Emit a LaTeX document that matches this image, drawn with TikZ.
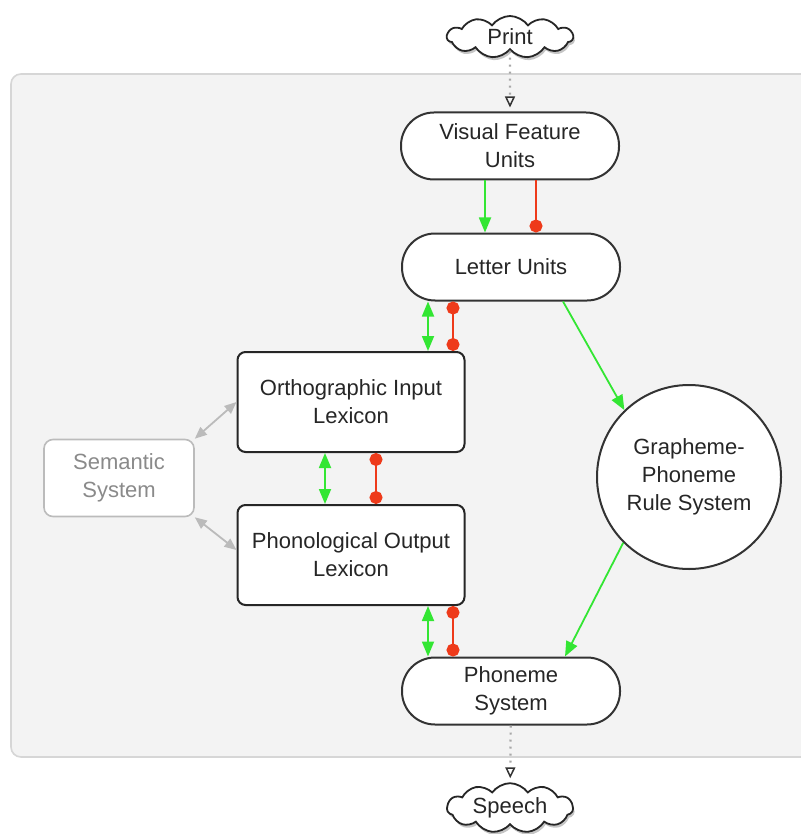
\documentclass[tikz,border=0pt]{standalone}
\usepackage{fontspec}
\setmainfont{Liberation Sans}
\usetikzlibrary{shapes.symbols,shadows,arrows.meta}
\definecolor{panelfill}{HTML}{F3F3F3}
\definecolor{panelline}{HTML}{D6D6D6}
\definecolor{gr}{HTML}{33E633}
\definecolor{rd}{HTML}{EE3A1A}
\definecolor{semgray}{HTML}{BBBBBB}
\definecolor{semtext}{HTML}{8A8A8A}
\definecolor{dotgray}{HTML}{A8A8A8}
\begin{document}
\begin{tikzpicture}[x=1pt,y=-1pt,
  every node/.style={font=\fontsize{22}{28}\selectfont, align=center, text=black!85},
  pill/.style={draw=black!80, line width=2pt, fill=white, rounded corners=33pt, minimum width=218pt, minimum height=67pt},
  lexbox/.style={draw=black!85, line width=2pt, fill=white, rounded corners=8pt, minimum width=227pt, minimum height=100pt},
  semb/.style={draw=semgray, line width=1.6pt, fill=white, rounded corners=9pt, minimum width=150pt, minimum height=77pt, text=semtext},
  gprc/.style={draw=black!80, line width=2pt, fill=white, circle, minimum size=184pt, inner sep=0pt},
  cloudn/.style={cloud, cloud puffs=11, cloud puff arc=110, aspect=3.2, draw=black!85, line width=1.8pt, fill=white, minimum width=126pt, minimum height=42pt, inner sep=2pt, drop shadow={opacity=0.45, shadow xshift=1.5pt, shadow yshift=-3pt}},
  excite/.style={draw=gr, line width=1.8pt, -{Triangle[length=15pt,width=12pt]}},
  excite2/.style={draw=gr, line width=1.8pt, {Triangle[length=15pt,width=12pt]}-{Triangle[length=15pt,width=12pt]}},
  inhib/.style={draw=rd, line width=1.8pt, -{Circle[length=13pt]}},
  inhib2/.style={draw=rd, line width=1.8pt, {Circle[length=13pt]}-{Circle[length=13pt]}},
  semarr/.style={draw=semgray, line width=1.8pt, {Triangle[length=12pt,width=10pt]}-{Triangle[length=12pt,width=10pt]}},
  inout/.style={draw=dotgray, line width=2.2pt, dash pattern=on 2pt off 5pt, -{Triangle[open, length=11pt, width=10pt, line width=1.5pt, color=black!80]}}
]
\useasboundingbox (0,0) rectangle (800,834);
\fill[white] (0,0) rectangle (800,834);
\draw[panelline, fill=panelfill, line width=1.6pt, rounded corners=10pt] (11,74) rectangle (830,757);

\node[cloudn] (print) at (510,37) {Print};
\node[pill] (vfu) at (510,146) {Visual Feature\\Units};
\node[pill] (lu) at (511,267) {Letter Units};
\node[lexbox] (oil) at (351,402) {Orthographic Input\\Lexicon};
\node[lexbox] (pol) at (351,555) {Phonological Output\\Lexicon};
\node[semb] (sem) at (119,478) {Semantic\\System};
\node[gprc] (gpr) at (689,477) {Grapheme-\\Phoneme\\Rule System};
\node[pill] (ph) at (511,691) {Phoneme\\System};
\node[cloudn] (speech) at (510,808) {Speech};

\draw[inout, shorten >=4pt] (print) -- (vfu);
\draw[inout, shorten >=4pt] (ph) -- (speech);

\draw[excite] ([xshift=-25pt]vfu.south) -- ([xshift=-26pt]lu.north);
\draw[inhib] ([xshift=26pt]vfu.south) -- ([xshift=25pt]lu.north);

\draw[excite2] ([xshift=-83pt]lu.south) -- ([xshift=77pt]oil.north);
\draw[inhib2] ([xshift=-58pt]lu.south) -- ([xshift=102pt]oil.north);

\draw[excite2] ([xshift=-26pt]oil.south) -- ([xshift=-26pt]pol.north);
\draw[inhib2] ([xshift=25pt]oil.south) -- ([xshift=25pt]pol.north);

\draw[excite2] ([xshift=77pt]pol.south) -- ([xshift=-83pt]ph.north);
\draw[inhib2] ([xshift=102pt]pol.south) -- ([xshift=-58pt]ph.north);

\draw[excite] ([xshift=52pt]lu.south) -- (gpr.134);
\draw[excite] (gpr.225) -- ([xshift=54pt]ph.north);

\draw[semarr] (sem.north east) -- (oil.west);
\draw[semarr] (sem.south east) -- ([yshift=5pt]pol.west);
\end{tikzpicture}
\end{document}
